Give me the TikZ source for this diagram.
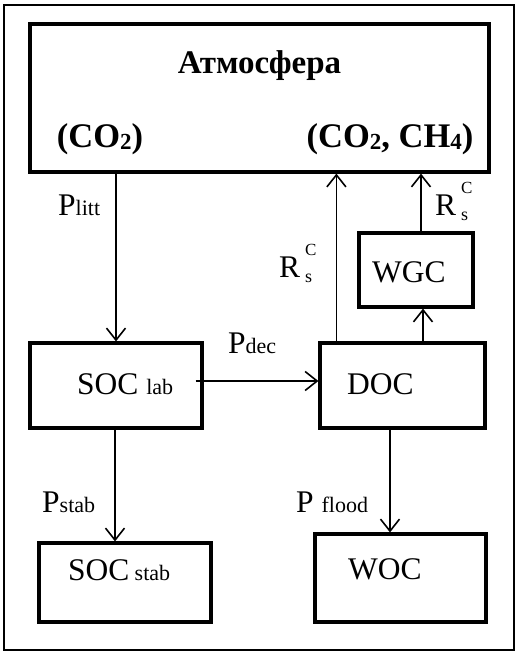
\documentclass[tikz,border=0pt]{standalone}
\usepackage{fontspec}
\setmainfont{Liberation Serif}
\usetikzlibrary{arrows.meta,calc}
\newcommand{\bigf}{\fontsize{31.5}{31.5}\selectfont}
\newcommand{\boldf}{\fontsize{33}{33}\selectfont\bfseries}
\newcommand{\subf}[1]{{\fontsize{22}{22}\selectfont #1}}
\newcommand{\bsub}[1]{\raisebox{-2pt}{\fontsize{23}{23}\selectfont #1}}
\newcommand{\RCs}{R\hspace{5pt}\makebox[0pt][l]{\raisebox{22pt}{\fontsize{17}{17}\selectfont C}}\raisebox{-5pt}{\fontsize{18}{18}\selectfont s}}
\begin{document}
\begin{tikzpicture}[x=1pt,y=-1pt,
  box/.style={draw,line width=3.2pt,inner sep=0pt,rectangle},
  txt/.style={inner sep=0pt,anchor=base west,font=\bigf},
  btxt/.style={inner sep=0pt,anchor=base,font=\boldf},
  arr/.style={line width=1.6pt,-{Straight Barb[length=12pt,width=19pt,line width=1.6pt]}}]
\useasboundingbox (0,0) rectangle (519,656);
\draw[line width=1.8pt] (4,5) rectangle (514,650);
% boxes
\node[box,minimum width=459pt,minimum height=148pt] (atm) at (259.5,98) {};
\node[box,minimum width=172pt,minimum height=85pt] (soclab) at (116,385.5) {};
\node[box,minimum width=165pt,minimum height=85pt] (doc) at (402.5,385.5) {};
\node[box,minimum width=114pt,minimum height=74pt] (wgc) at (416,270) {};
\node[box,minimum width=172pt,minimum height=79pt] (socstab) at (125,582.5) {};
\node[box,minimum width=171pt,minimum height=88pt] (woc) at (400.5,578) {};
% texts
\node[btxt] (atmt) at (259.5,73) {Атмосфера};
\node[btxt,font=\fontsize{34.5}{34.5}\selectfont\bfseries] (co2) at (100,147) {(CO\bsub{2})};
\node[btxt,font=\fontsize{34.5}{34.5}\selectfont\bfseries] (co2ch4) at (390,147) {(CO\bsub{2}, CH\bsub{4})};
\node[txt] (soclabt) at (77,394) {SOC \subf{lab}};
\node[txt] (doct) at (347,394) {DOC};
\node[txt] (wgct) at (372,282) {WGC};
\node[txt] (socstabt) at (68,580) {SOC\,\subf{stab}};
\node[txt] (woct) at (348,579) {WOC};
\node[txt] (plitt) at (58,215) {P\subf{litt}};
\node[txt] (pdec) at (228,353) {P\subf{dec}};
\node[txt] (pstab) at (42,512) {P\subf{stab}};
\node[txt] (pflood) at (296,512) {P \subf{flood}};
\node[txt] (rcs1) at (279,277) {\RCs};
\node[txt] (rcs2) at (435,215) {\RCs};
% connectors
\draw[arr] (soclab.north |- atm.south) -- (soclab.north);
\draw[arr] ([xshift=-8pt,yshift=4.5pt]soclab.east) -- ([yshift=4.5pt]doc.west);
\draw[arr] ([xshift=18pt]doc.north west) -- ([xshift=18pt]doc.north west |- atm.south);
\draw[arr] ([xshift=7pt]wgc.south |- doc.north) -- ([xshift=7pt]wgc.south);
\draw[arr] ([xshift=5pt]wgc.north) -- ([xshift=5pt]wgc.north |- atm.south);
\draw[arr] ([xshift=-1pt]soclab.south) -- ([xshift=-1pt]soclab.south |- socstab.north);
\draw[arr] ([xshift=-12.5pt]doc.south) -- ([xshift=-12.5pt]doc.south |- woc.north);
\end{tikzpicture}
\end{document}
